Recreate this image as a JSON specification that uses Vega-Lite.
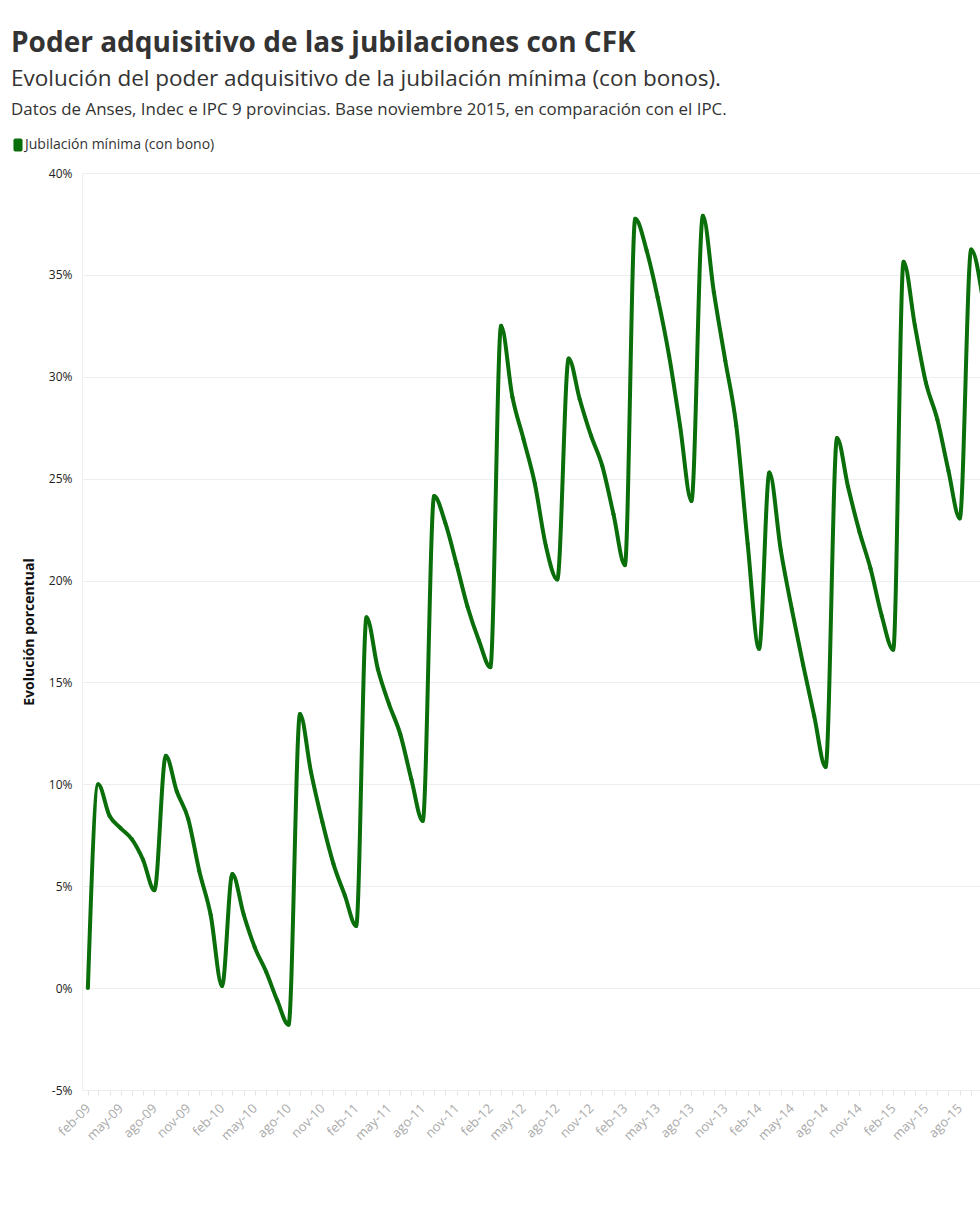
{
  "$schema": "https://vega.github.io/schema/vega-lite/v6.json",
  "width": 898,
  "height": 917,
  "padding": {"left": 11, "top": 29, "right": 0, "bottom": 0},
  "background": "white",
  "title": {
    "text": "Poder adquisitivo de las jubilaciones con CFK",
    "subtitle": "Evolución del poder adquisitivo de la jubilación mínima (con bonos).",
    "anchor": "start",
    "frame": "bounds",
    "font": "Open Sans",
    "fontSize": 28,
    "fontWeight": "bold",
    "color": "#333333",
    "subtitleFont": "Open Sans",
    "subtitleFontSize": 22.5,
    "subtitleColor": "#333333",
    "subtitlePadding": 10,
    "offset": 12
  },
  "data": {
    "values": [
      {"fecha": "2009-02-01", "valor": 0, "serie": "Jubilación mínima (con bono)"},
      {"fecha": "2009-03-01", "valor": 10.0, "serie": "Jubilación mínima (con bono)"},
      {"fecha": "2009-04-01", "valor": 8.45, "serie": "Jubilación mínima (con bono)"},
      {"fecha": "2009-05-01", "valor": 7.85, "serie": "Jubilación mínima (con bono)"},
      {"fecha": "2009-06-01", "valor": 7.3, "serie": "Jubilación mínima (con bono)"},
      {"fecha": "2009-07-01", "valor": 6.3, "serie": "Jubilación mínima (con bono)"},
      {"fecha": "2009-08-01", "valor": 4.8, "serie": "Jubilación mínima (con bono)"},
      {"fecha": "2009-09-01", "valor": 11.4, "serie": "Jubilación mínima (con bono)"},
      {"fecha": "2009-10-01", "valor": 9.65, "serie": "Jubilación mínima (con bono)"},
      {"fecha": "2009-11-01", "valor": 8.3, "serie": "Jubilación mínima (con bono)"},
      {"fecha": "2009-12-01", "valor": 5.75, "serie": "Jubilación mínima (con bono)"},
      {"fecha": "2010-01-01", "valor": 3.6, "serie": "Jubilación mínima (con bono)"},
      {"fecha": "2010-02-01", "valor": 0.1, "serie": "Jubilación mínima (con bono)"},
      {"fecha": "2010-03-01", "valor": 5.6, "serie": "Jubilación mínima (con bono)"},
      {"fecha": "2010-04-01", "valor": 3.6, "serie": "Jubilación mínima (con bono)"},
      {"fecha": "2010-05-01", "valor": 2.0, "serie": "Jubilación mínima (con bono)"},
      {"fecha": "2010-06-01", "valor": 0.8, "serie": "Jubilación mínima (con bono)"},
      {"fecha": "2010-07-01", "valor": -0.6, "serie": "Jubilación mínima (con bono)"},
      {"fecha": "2010-08-01", "valor": -1.8, "serie": "Jubilación mínima (con bono)"},
      {"fecha": "2010-09-01", "valor": 13.45, "serie": "Jubilación mínima (con bono)"},
      {"fecha": "2010-10-01", "valor": 10.6, "serie": "Jubilación mínima (con bono)"},
      {"fecha": "2010-11-01", "valor": 8.15, "serie": "Jubilación mínima (con bono)"},
      {"fecha": "2010-12-01", "valor": 6.1, "serie": "Jubilación mínima (con bono)"},
      {"fecha": "2011-01-01", "valor": 4.55, "serie": "Jubilación mínima (con bono)"},
      {"fecha": "2011-02-01", "valor": 3.05, "serie": "Jubilación mínima (con bono)"},
      {"fecha": "2011-03-01", "valor": 18.2, "serie": "Jubilación mínima (con bono)"},
      {"fecha": "2011-04-01", "valor": 15.65, "serie": "Jubilación mínima (con bono)"},
      {"fecha": "2011-05-01", "valor": 13.95, "serie": "Jubilación mínima (con bono)"},
      {"fecha": "2011-06-01", "valor": 12.45, "serie": "Jubilación mínima (con bono)"},
      {"fecha": "2011-07-01", "valor": 10.25, "serie": "Jubilación mínima (con bono)"},
      {"fecha": "2011-08-01", "valor": 8.2, "serie": "Jubilación mínima (con bono)"},
      {"fecha": "2011-09-01", "valor": 24.15, "serie": "Jubilación mínima (con bono)"},
      {"fecha": "2011-10-01", "valor": 22.85, "serie": "Jubilación mínima (con bono)"},
      {"fecha": "2011-11-01", "valor": 20.8, "serie": "Jubilación mínima (con bono)"},
      {"fecha": "2011-12-01", "valor": 18.7, "serie": "Jubilación mínima (con bono)"},
      {"fecha": "2012-01-01", "valor": 17.05, "serie": "Jubilación mínima (con bono)"},
      {"fecha": "2012-02-01", "valor": 15.75, "serie": "Jubilación mínima (con bono)"},
      {"fecha": "2012-03-01", "valor": 32.5, "serie": "Jubilación mínima (con bono)"},
      {"fecha": "2012-04-01", "valor": 29.0, "serie": "Jubilación mínima (con bono)"},
      {"fecha": "2012-05-01", "valor": 26.95, "serie": "Jubilación mínima (con bono)"},
      {"fecha": "2012-06-01", "valor": 24.75, "serie": "Jubilación mínima (con bono)"},
      {"fecha": "2012-07-01", "valor": 21.7, "serie": "Jubilación mínima (con bono)"},
      {"fecha": "2012-08-01", "valor": 20.05, "serie": "Jubilación mínima (con bono)"},
      {"fecha": "2012-09-01", "valor": 30.9, "serie": "Jubilación mínima (con bono)"},
      {"fecha": "2012-10-01", "valor": 28.9, "serie": "Jubilación mínima (con bono)"},
      {"fecha": "2012-11-01", "valor": 27.1, "serie": "Jubilación mínima (con bono)"},
      {"fecha": "2012-12-01", "valor": 25.65, "serie": "Jubilación mínima (con bono)"},
      {"fecha": "2013-01-01", "valor": 23.25, "serie": "Jubilación mínima (con bono)"},
      {"fecha": "2013-02-01", "valor": 20.75, "serie": "Jubilación mínima (con bono)"},
      {"fecha": "2013-03-01", "valor": 37.75, "serie": "Jubilación mínima (con bono)"},
      {"fecha": "2013-04-01", "valor": 36.2, "serie": "Jubilación mínima (con bono)"},
      {"fecha": "2013-05-01", "valor": 33.9, "serie": "Jubilación mínima (con bono)"},
      {"fecha": "2013-06-01", "valor": 31.05, "serie": "Jubilación mínima (con bono)"},
      {"fecha": "2013-07-01", "valor": 27.6, "serie": "Jubilación mínima (con bono)"},
      {"fecha": "2013-08-01", "valor": 23.9, "serie": "Jubilación mínima (con bono)"},
      {"fecha": "2013-09-01", "valor": 37.9, "serie": "Jubilación mínima (con bono)"},
      {"fecha": "2013-10-01", "valor": 34.15, "serie": "Jubilación mínima (con bono)"},
      {"fecha": "2013-11-01", "valor": 30.8, "serie": "Jubilación mínima (con bono)"},
      {"fecha": "2013-12-01", "valor": 27.6, "serie": "Jubilación mínima (con bono)"},
      {"fecha": "2014-01-01", "valor": 21.8, "serie": "Jubilación mínima (con bono)"},
      {"fecha": "2014-02-01", "valor": 16.65, "serie": "Jubilación mínima (con bono)"},
      {"fecha": "2014-03-01", "valor": 25.3, "serie": "Jubilación mínima (con bono)"},
      {"fecha": "2014-04-01", "valor": 21.5, "serie": "Jubilación mínima (con bono)"},
      {"fecha": "2014-05-01", "valor": 18.6, "serie": "Jubilación mínima (con bono)"},
      {"fecha": "2014-06-01", "valor": 15.85, "serie": "Jubilación mínima (con bono)"},
      {"fecha": "2014-07-01", "valor": 13.35, "serie": "Jubilación mínima (con bono)"},
      {"fecha": "2014-08-01", "valor": 10.85, "serie": "Jubilación mínima (con bono)"},
      {"fecha": "2014-09-01", "valor": 27.0, "serie": "Jubilación mínima (con bono)"},
      {"fecha": "2014-10-01", "valor": 24.6, "serie": "Jubilación mínima (con bono)"},
      {"fecha": "2014-11-01", "valor": 22.4, "serie": "Jubilación mínima (con bono)"},
      {"fecha": "2014-12-01", "valor": 20.6, "serie": "Jubilación mínima (con bono)"},
      {"fecha": "2015-01-01", "valor": 18.25, "serie": "Jubilación mínima (con bono)"},
      {"fecha": "2015-02-01", "valor": 16.6, "serie": "Jubilación mínima (con bono)"},
      {"fecha": "2015-03-01", "valor": 35.65, "serie": "Jubilación mínima (con bono)"},
      {"fecha": "2015-04-01", "valor": 32.5, "serie": "Jubilación mínima (con bono)"},
      {"fecha": "2015-05-01", "valor": 29.7, "serie": "Jubilación mínima (con bono)"},
      {"fecha": "2015-06-01", "valor": 27.9, "serie": "Jubilación mínima (con bono)"},
      {"fecha": "2015-07-01", "valor": 25.4, "serie": "Jubilación mínima (con bono)"},
      {"fecha": "2015-08-01", "valor": 23.05, "serie": "Jubilación mínima (con bono)"},
      {"fecha": "2015-09-01", "valor": 36.25, "serie": "Jubilación mínima (con bono)"},
      {"fecha": "2015-10-01", "valor": 34.0, "serie": "Jubilación mínima (con bono)"}
    ]
  },
  "encoding": {
    "x": {
      "field": "fecha",
      "type": "temporal",
      "scale": {
        "type": "utc",
        "domain": [
          {"year": 2009, "month": 1, "date": 16, "utc": true},
          {"year": 2015, "month": 9, "date": 25, "utc": true}
        ]
      },
      "axis": {
        "title": null,
        "tickCount": {"interval": "month", "step": 1},
        "labelExpr": "utcmonth(datum.value) % 3 == 1 ? ['ene','feb','mar','abr','may','jun','jul','ago','sep','oct','nov','dic'][utcmonth(datum.value)] + '-' + utcFormat(datum.value, '%y') : ''",
        "labelAngle": -45,
        "labelAlign": "right",
        "labelBaseline": "middle",
        "labelColor": "#aaaaaa",
        "labelFont": "Open Sans",
        "labelFontSize": 13,
        "labelPadding": 11,
        "labelOverlap": false,
        "labelFlush": false,
        "labelBound": false,
        "ticks": true,
        "tickSize": 5,
        "tickColor": "#e2e2e2",
        "domain": true,
        "domainColor": "#eeeeee",
        "grid": false
      }
    },
    "y": {
      "field": "valor",
      "type": "quantitative",
      "scale": {"domain": [-5, 40], "nice": false, "zero": false},
      "axis": {
        "title": "Evolución porcentual",
        "titleFont": "Open Sans",
        "titleFontSize": 14,
        "titleFontWeight": "bold",
        "titleColor": "#111111",
        "titlePadding": 12,
        "values": [-5, 0, 5, 10, 15, 20, 25, 30, 35, 40],
        "labelExpr": "datum.value + '%'",
        "labelFont": "Open Sans",
        "labelFontSize": 12,
        "labelColor": "#222222",
        "labelPadding": 10,
        "ticks": false,
        "domain": true,
        "domainColor": "#eeeeee",
        "grid": true,
        "gridColor": "#eeeeee"
      }
    },
    "color": {
      "field": "serie",
      "type": "nominal",
      "scale": {"range": ["#0a6e0a"]},
      "legend": {
        "orient": "none",
        "legendX": -71,
        "legendY": -71,
        "title": "Datos de Anses, Indec e IPC 9 provincias. Base noviembre 2015, en comparación con el IPC.",
        "titleFont": "Open Sans",
        "titleFontSize": 16.9,
        "titleFontWeight": "normal",
        "titleColor": "#333333",
        "titleLimit": 1000,
        "titlePadding": 19,
        "labelFont": "Open Sans",
        "labelFontSize": 14,
        "labelColor": "#333333",
        "labelLimit": 500,
        "labelOffset": 0,
        "symbolType": "M-0.4,-1H0.4A0.3,0.3 0 0 1 0.7,-0.7V0.7A0.3,0.3 0 0 1 0.4,1H-0.4A0.3,0.3 0 0 1 -0.7,0.7V-0.7A0.3,0.3 0 0 1 -0.4,-1Z",
        "symbolSize": 169,
        "symbolFillColor": "#0a6e0a",
        "symbolStrokeColor": "#0a6e0a",
        "symbolStrokeWidth": 0,
        "symbolOpacity": 1
      }
    }
  },
  "layer": [
    {"mark": {"type": "line", "interpolate": "monotone", "strokeWidth": 4, "clip": true}},
    {"mark": {"type": "point", "filled": true, "size": 16, "opacity": 1, "clip": true}}
  ],
  "config": {
    "view": {"stroke": null},
    "font": "Open Sans"
  }
}
